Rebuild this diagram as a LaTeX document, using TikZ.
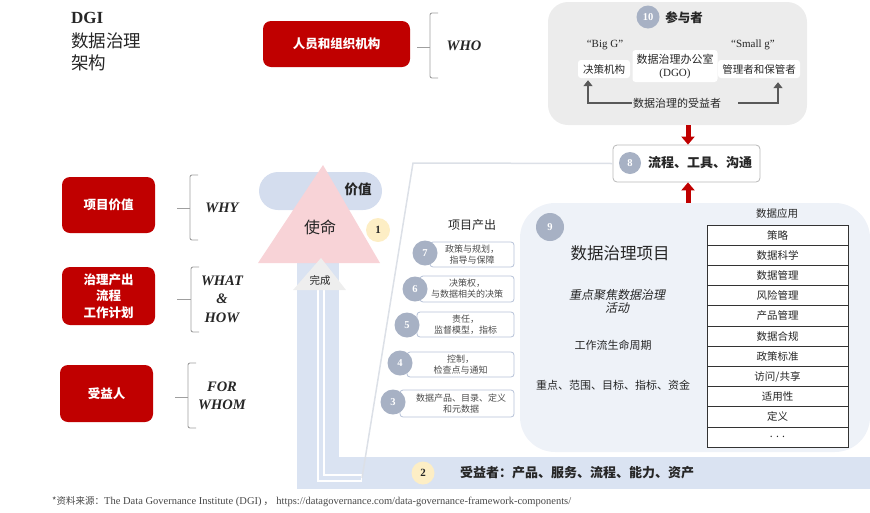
\documentclass[tikz,border=0pt]{standalone}
\usepackage{fontspec}
\setmainfont{Liberation Serif}
\newfontfamily\cjk{Noto Sans CJK SC}
\newfontfamily\cjkit{Noto Sans CJK SC}[FakeSlant=0.2]
\usetikzlibrary{arrows.meta,calc}
\definecolor{dgired}{HTML}{C00000}
\definecolor{bandblue}{HTML}{DAE3F2}
\definecolor{pillblue}{HTML}{D4DDEE}
\definecolor{tripink}{HTML}{F8D3D7}
\definecolor{numgray}{HTML}{A7B1C4}
\definecolor{numyel}{HTML}{FDEEC5}
\definecolor{areabg}{HTML}{EEF2F8}
\definecolor{topgray}{HTML}{ECECEC}
\definecolor{boxedge}{HTML}{B7C2D8}
\definecolor{donegray}{HTML}{EEEEEE}
\definecolor{slantgray}{HTML}{DCE0E7}
\definecolor{txt}{HTML}{262626}
\newcommand\fsz[2]{\fontsize{#1}{#2}\selectfont}
\begin{document}
\begin{tikzpicture}[x=1pt,y=-1pt,
  redbox/.style={fill=dgired, rounded corners=8pt, text=white, font=\cjk\bfseries\fsz{12.5}{16.5}, align=center, minimum width=93pt, minimum height=56pt, inner sep=0pt},
  qlabel/.style={font=\bfseries\itshape\fsz{14.5}{18.5}, text=txt, align=center},
  brk/.style={draw=gray!75, line width=0.9pt, rounded corners=2pt},
  gnum/.style={circle, fill=numgray, text=white, font=\bfseries\fsz{10.5}{10.5}, minimum size=25pt, inner sep=0pt},
  ynum/.style={circle, fill=numyel, text=txt, font=\bfseries\fsz{11}{11}, minimum size=24pt, inner sep=0pt},
  outbox/.style={draw=boxedge, line width=0.8pt, fill=white, rounded corners=3pt, font=\cjk\fsz{9}{11}, text=black!70, align=center, inner sep=0pt, minimum height=26pt},
  tabrow/.style={draw=black!80, line width=0.8pt, fill=white, minimum width=141pt, minimum height=20.2pt, inner sep=0pt, font=\cjk\fsz{10.5}{10.5}, text=txt},
  wbox/.style={fill=white, rounded corners=3pt, inner sep=0pt, align=center, text=txt},
  redarrow/.style={draw=dgired, line width=5pt, -{Triangle[length=8pt,width=13pt]}},
  darrow/.style={draw=black!65, line width=2.5pt, -{Triangle[length=6pt,width=9pt]}},
  slant/.style={draw=slantgray, line width=1.5pt}
]
\useasboundingbox (0,0) rectangle (870,512);

% ---------- title ----------
\node[anchor=west, font=\bfseries\fsz{17}{17}, text=txt, inner sep=0pt] (t1) at (71,18) {DGI};
\node[anchor=west, font=\cjk\fsz{17.5}{17.5}, text=txt, inner sep=0pt] (t2) at (71,41) {数据治理};
\node[anchor=west, font=\cjk\fsz{17.5}{17.5}, text=txt, inner sep=0pt] (t3) at (71,63) {架构};

% ---------- left column ----------
\node[redbox, minimum width=147pt, minimum height=46pt] (who) at (336.5,44) {人员和组织机构};
\draw[brk] (438,13) -- (430,13) -- (430,78) -- (438,78);
\draw[brk] (417,47) -- (430,47);
\node[qlabel] (whol) at (464,46) {WHO};

\node[redbox] (why) at (108.5,205) {项目价值};
\draw[brk] (198,175) -- (190,175) -- (190,240) -- (198,240);
\draw[brk] (177,208) -- (190,208);
\node[qlabel] (whyl) at (222,208) {WHY};

\node[redbox, minimum height=58pt] (what) at (108.5,296) {治理产出\\流程\\工作计划};
\draw[brk] (199,267) -- (191,267) -- (191,332) -- (199,332);
\draw[brk] (177,299) -- (191,299);
\node[qlabel] (whatl) at (222,299) {WHAT\\\&\\HOW};

\node[redbox, minimum height=57pt] (whom) at (106.5,393.5) {受益人};
\draw[brk] (196,363) -- (188,363) -- (188,428) -- (196,428);
\draw[brk] (175,397) -- (188,397);
\node[qlabel] (whoml) at (222,396) {FOR\\WHOM};

% ---------- blue band ----------
\fill[bandblue] (297,240) rectangle (339,489);
\fill[bandblue] (297,457) rectangle (870,489);
\node[fill=pillblue, rounded corners=19pt, minimum width=123pt, minimum height=38pt, inner sep=0pt] (pill) at (320.5,191) {};
\fill[tripink] (323,165) -- (258,263) -- (380,263) -- cycle;
\node[font=\cjk\bfseries\fsz{13.5}{13.5}, text=txt] (val) at (358,189) {价值};
\node[font=\cjk\fsz{16}{16}, text=txt] (mission) at (320,227) {使命};
\node[ynum] (n1) at (378,230) {1};

% slanted line and hollow tube
\coordinate (sl1) at (413,163);
\coordinate (sl2) at (362,478);
\coordinate (tb1) at (321,478);
\coordinate (tb2) at (321,290);
\draw[white, line width=7.5pt] (sl2) -- (tb1) -- (tb2);
\draw[bandblue, line width=4.5pt] ([xshift=-1pt]sl2) -- (tb1) -- (tb2);
\fill[donegray] (321,258) -- (293,290) -- (346,290) -- cycle;
\node[font=\cjk\fsz{10.5}{10.5}, text=txt] (done) at (320,280) {完成};

% ---------- area 9 ----------
\node[fill=areabg, rounded corners=35pt, minimum width=350pt, minimum height=249pt, inner sep=0pt] (area) at (695,327.5) {};
\node[gnum, minimum size=28pt] (n9) at (550,227) {9};
\node[font=\cjk\fsz{16.5}{16.5}, text=txt] (dgp) at (620,253) {数据治理项目};
\node[font=\cjkit\fsz{12}{13}, text=txt, align=center] (focus) at (617,301) {重点聚焦数据治理\\活动};
\node[font=\cjk\fsz{11}{11}, text=txt] (wf) at (613,345) {工作流生命周期};
\node[font=\cjk\fsz{11}{11}, text=txt] (scope) at (613,385) {重点、范围、目标、指标、资金};

\node[font=\cjk\fsz{10.5}{10.5}, text=txt] (apph) at (777,213) {数据应用};
\foreach \i/\t in {1/{策略},2/{数据科学},3/{数据管理},4/{风险管理},5/{产品管理},6/{数据合规},7/{政策标准},8/{访问/共享},9/{适用性},10/{定义},11/{. . .}}{
  \node[tabrow] (r\i) at (777.5,{225+20.2*(\i-0.5)}) {\t};
}

% ---------- project outputs ----------
\node[font=\cjk\fsz{12}{12}, text=txt] (outh) at (472,225) {项目产出};
\node[outbox, minimum width=84pt, minimum height=25pt] (o7) at (472,254.5) {政策与规划，\\指导与保障};
\node[outbox, minimum width=94pt] (o6) at (467,289) {决策权，\\与数据相关的决策};
\node[outbox, minimum width=97pt, minimum height=25pt] (o5) at (465.5,324.5) {责任，\\监督模型，指标};
\node[outbox, minimum width=107pt, minimum height=25pt] (o4) at (460.5,364.5) {控制，\\检查点与通知};
\node[outbox, minimum width=114pt, minimum height=27pt] (o3) at (457,403.5) {\hspace*{8pt}数据产品、目录、定义\\\hspace*{8pt}和元数据};
\node[gnum] (n7) at (425,253) {7};
\node[gnum] (n6) at (415,289) {6};
\node[gnum] (n5) at (407,325) {5};
\node[gnum] (n4) at (400,363) {4};
\node[gnum] (n3) at (393,402) {3};

% ---------- bottom band text ----------
\node[ynum, minimum size=23pt] (n2) at (423,473) {2};
\node[font=\cjk\bfseries\fsz{13}{13}, text=txt] (ben2) at (577,473) {受益者：产品、服务、流程、能力、资产};

% ---------- top participants ----------
\node[fill=topgray, rounded corners=20pt, minimum width=259pt, minimum height=123pt, inner sep=0pt] (top) at (677.5,63.5) {};
\node[gnum, minimum size=23pt] (n10) at (648,17) {10};
\node[font=\cjk\bfseries\fsz{12.5}{12.5}, text=txt] (part) at (684,18) {参与者};
\node[font=\fsz{11}{11}, text=txt] (bigg) at (605,45) {``Big G''};
\node[font=\fsz{11}{11}, text=txt] (smallg) at (753,45) {``Small g''};
\node[wbox, minimum width=52pt, minimum height=18pt, font=\cjk\fsz{10.5}{10.5}] (jc) at (604,69) {决策机构};
\node[wbox, minimum width=85pt, minimum height=32pt, font=\cjk\fsz{11}{13}] (dgo) at (675,66) {数据治理办公室\\{\fontspec{Liberation Serif}(DGO)}};
\node[wbox, minimum width=82pt, minimum height=18pt, font=\cjk\fsz{10.5}{10.5}] (gm) at (759,69) {管理者和保管者};
\node[font=\cjk\fsz{11}{11}, text=txt, inner sep=1pt] (ben) at (677,103) {数据治理的受益者};
\draw[darrow] (ben.west) -| ([xshift=-16pt,yshift=-2pt]jc.south);
\draw[darrow] ([xshift=16pt]ben.east) -| ([xshift=19pt,yshift=-4pt]gm.south);

% ---------- box 8 ----------
\node[draw=gray!55, line width=0.8pt, fill=white, rounded corners=4pt, minimum width=147pt, minimum height=37pt, inner sep=0pt] (b8) at (686.5,163.5) {};
\node[gnum, minimum size=22pt] (n8) at (630,163) {8};
\node[font=\cjk\bfseries\fsz{13}{13}, text=txt] (ptc) at (700,163) {流程、工具、沟通};
\draw[slant] (b8.west) -- (sl1) -- (sl2);
\draw[redarrow] ([xshift=1.5pt]b8.north |- top.south) -- ([xshift=1.5pt]b8.north);
\draw[redarrow] ([xshift=1.5pt]b8.south |- area.north) -- ([xshift=1.5pt]b8.south);

% ---------- footer ----------
\node[anchor=west, font=\fsz{10.5}{12}, text=txt!85, inner sep=0pt] (src) at (52,502) {{\cjk\fsz{9.5}{12}*资料来源：}The Data Governance Institute (DGI)\,{\cjk ，} https://datagovernance.com/data-governance-framework-components/};
\end{tikzpicture}
\end{document}
